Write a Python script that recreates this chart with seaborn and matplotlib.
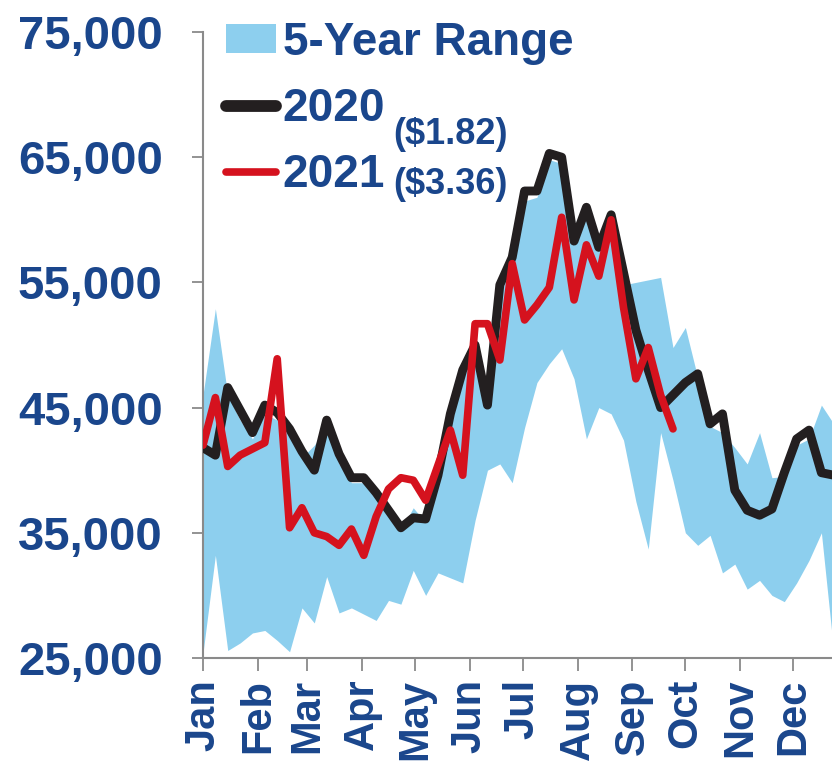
import numpy as np
import pandas as pd
import matplotlib
matplotlib.use("Agg")
import matplotlib.pyplot as plt
from matplotlib.lines import Line2D
from matplotlib.patches import Patch
import seaborn as sns

# Weekly working gas in storage, one point per week starting Jan 1
weeks = pd.date_range("2021-01-01", periods=52, freq="7D")

range_high = [46000, 52900, 46000, 44000, 42500, 44500, 44000, 42800, 41000, 42000,
              43500, 40500, 39000, 39000, 37800, 36600, 35200, 37000, 35800, 39000,
              44000, 47500, 49500, 45000, 54000, 56500, 61500, 61800, 64800, 64500,
              58000, 60500, 57500, 59800, 54800, 55000, 55200, 55400, 49800, 51400,
              47400, 43500, 43000, 41800, 40500, 43000, 39400, 39500, 42000, 42500,
              45200, 43700]
range_low = [25400, 33200, 25600, 26200, 27000, 27200, 26400, 25500, 29000, 27800,
             31500, 28600, 29000, 28500, 28000, 29600, 29300, 32000, 30000, 31800,
             31400, 31000, 36000, 40000, 40500, 39000, 43400, 47000, 48500, 49700,
             47300, 42500, 45000, 44500, 42400, 37500, 33700, 43000, 39200, 35000,
             34000, 34800, 31800, 32500, 30500, 31200, 30000, 29500, 31000, 32800,
             35000, 25500]
storage_2020 = [41800, 41200, 46600, 44800, 43000, 45200, 44600, 43300, 41500, 40000,
                44000, 41300, 39400, 39400, 38200, 36800, 35400, 36200, 36100, 39600,
                44500, 48000, 50000, 45200, 54800, 57000, 62300, 62300, 65300, 65000,
                58300, 61000, 57800, 60400, 55800, 51200, 48000, 45000, 46000, 47000,
                47700, 43700, 44500, 38400, 36800, 36400, 36900, 39800, 42500, 43200,
                39800, 39600]
storage_2021 = [42000, 45800, 40300, 41200, 41700, 42200, 48900, 35400, 37000, 35000,
                34700, 34000, 35300, 33200, 36300, 38500, 39400, 39200, 37600, 40400,
                43200, 39600, 51700, 51700, 48800, 56500, 52000, 53200, 54600, 60200,
                53600, 58000, 55500, 60000, 53000, 47300, 49800, 46000, 43300]

y_ticks = [25000, 35000, 45000, 55000, 65000, 75000]
month_labels = ["Jan", "Feb", "Mar", "Apr", "May", "Jun",
                "Jul", "Aug", "Sep", "Oct", "Nov", "Dec"]
price_2020 = "($1.82)"
price_2021 = "($3.36)"

NAVY = "#1A468C"
BAND = "#8DCFEE"
BLACK = "#231F20"
RED = "#D5121E"
GREY = "#8A8A8A"

sns.set_theme(style="ticks")
plt.rcParams["font.family"] = ["Liberation Sans", "DejaVu Sans"]
plt.rcParams["font.weight"] = "bold"

W, H = 832, 781
fig = plt.figure(figsize=(W / 100, H / 100), dpi=100)
ax = fig.add_axes([203 / W, 123 / H, 629 / W, 626 / H])

df_2020 = pd.DataFrame({"week": weeks, "storage": storage_2020})
df_2021 = pd.DataFrame({"week": weeks[:len(storage_2021)], "storage": storage_2021})

ax.fill_between(weeks, range_low, range_high, color=BAND, lw=0, zorder=1)
sns.lineplot(data=df_2020, x="week", y="storage", color=BLACK, lw=6.4, ax=ax, zorder=3)
sns.lineplot(data=df_2021, x="week", y="storage", color=RED, lw=5.5, ax=ax, zorder=4)

ax.set_xlim(weeks[0], weeks[0] + pd.Timedelta(days=356))
ax.set_ylim(y_ticks[0], y_ticks[-1])
ax.set_xlabel("")
ax.set_ylabel("")

ax.set_yticks(y_ticks)
ax.set_yticklabels([f"{v:,}" for v in y_ticks])
month_starts = pd.date_range("2021-01-01", periods=12, freq="MS")
ax.set_xticks(month_starts)
ax.set_xticklabels(month_labels, rotation=90)

for side in ("top", "right"):
    ax.spines[side].set_visible(False)
for side in ("left", "bottom"):
    ax.spines[side].set_color(GREY)
    ax.spines[side].set_linewidth(1.5)

ax.tick_params(axis="y", length=8, width=1.3, color=GREY, pad=21,
               labelsize=34, labelcolor=NAVY)
ax.tick_params(axis="x", length=9, width=1.3, color=GREY, pad=6,
               labelsize=30, labelcolor=NAVY)

handles = [
    Patch(facecolor=BAND, edgecolor="none"),
    Line2D([], [], color=BLACK, lw=8.5, solid_capstyle="round"),
    Line2D([], [], color=RED, lw=5.5, solid_capstyle="round"),
]
leg = ax.legend(handles, ["5-Year Range", "2020", "2021"],
                loc="upper left", bbox_to_anchor=(226 / W, 1 - 21 / H),
                bbox_transform=fig.transFigure, frameon=False,
                prop={"size": 33, "weight": "bold"}, labelcolor=NAVY,
                handlelength=1.09, handleheight=0.59, handletextpad=0.15,
                labelspacing=0.48, borderpad=0, borderaxespad=0)

# price notes set just after the year labels (pixel offsets from each label's box)
fig.canvas.draw()
renderer = fig.canvas.get_renderer()
for text, price, dy in zip(leg.get_texts()[1:], [price_2020, price_2021], [-3, 12]):
    bb = text.get_window_extent(renderer)
    fig.text((bb.x1 + 8) / W, (bb.y0 + dy) / H, price, ha="left", va="center",
             fontsize=26, fontweight="bold", color=NAVY)

fig.savefig("out.png", dpi=100)
